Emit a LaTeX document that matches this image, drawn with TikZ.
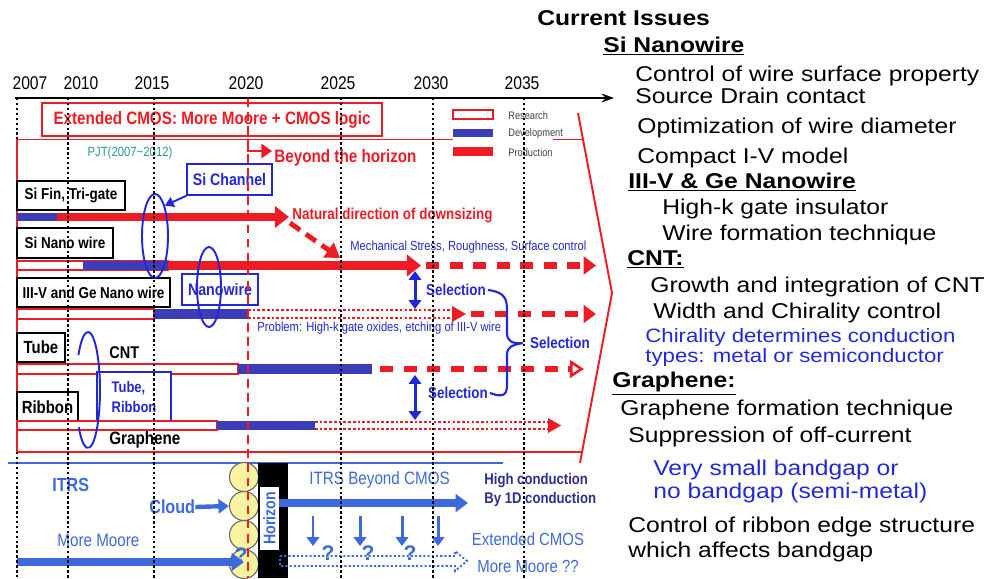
\documentclass[tikz,border=0pt]{standalone}
\usepackage{fontspec}
\setmainfont{Liberation Sans}
\newfontfamily\etroit[FakeStretch=0.85]{Liberation Sans}
\newfontfamily\ample[FakeStretch=1.15]{Liberation Sans}
\usetikzlibrary{arrows.meta,shapes.geometric}

\definecolor{rouge}{RGB}{237,28,36}
\definecolor{bleubarre}{RGB}{60,60,185}
\definecolor{bleutxt}{RGB}{35,40,215}
\definecolor{bleuitrs}{RGB}{60,105,220}
\definecolor{marine}{RGB}{45,45,150}
\definecolor{sarcelle}{RGB}{40,150,150}
\definecolor{nuage}{RGB}{250,243,160}

\newcommand{\taille}[2]{\fontsize{#1pt}{#2pt}\selectfont}

\tikzset{
  annee/.style={inner sep=0pt, font=\etroit\taille{10.5}{12}},
  boite/.style={draw, line width=1.1pt, fill=white, inner sep=1pt,
    font=\etroit\bfseries\taille{9}{10}},
  boitebleue/.style={draw=bleutxt, line width=0.9pt, fill=white, inner sep=1pt,
    text=bleutxt, font=\etroit\bfseries\taille{9.5}{11}},
  anneau/.style={ellipse, draw=bleutxt, line width=1.1pt, inner sep=0pt},
  legende/.style={anchor=west, inner sep=0pt, text=black!75, font=\etroit\taille{6.2}{7}},
  texterouge/.style={anchor=west, inner sep=0pt, text=rouge, font=\etroit\bfseries\taille{9}{10}},
  petitbleu/.style={anchor=west, inner sep=0pt, text=bleutxt, font=\etroit\taille{7.5}{9}},
  noirgras/.style={anchor=west, inner sep=0pt, font=\etroit\bfseries\taille{10.2}{12}},
  selec/.style={anchor=west, inner sep=1pt, text=bleutxt, font=\etroit\bfseries\taille{9}{10}},
  selfleche/.style={bleutxt, line width=1.7pt,
    {Triangle[length=5pt,width=7pt]}-{Triangle[length=5pt,width=7pt]}},
  recherche/.style={draw=rouge, line width=0.6pt, fill=white},
  tiret/.style={rouge, line width=3.5pt, dash pattern=on 7.4pt off 6pt,
    -{Triangle[length=7pt,width=10pt]}},
  pointille/.style={rouge, line width=1.1pt, dash pattern=on 1.5pt off 1.2pt},
  itrsgras/.style={anchor=west, inner sep=0pt, text=bleuitrs, font=\etroit\bfseries\taille{10.8}{12}},
  itrstexte/.style={anchor=west, inner sep=0pt, text=bleuitrs, font=\etroit\taille{10.2}{12}},
  grossefleche/.style={bleuitrs, line width=4pt, -{Triangle[length=7pt,width=10pt]}},
  grille/.style={black, line width=0.9pt, dash pattern=on 1.4pt off 1.4pt},
  issue/.style={anchor=base west, inner sep=0pt, font=\ample\taille{12.2}{14}},
  rubrique/.style={issue, font=\ample\bfseries\taille{12.2}{14}},
  remarque/.style={issue, text=bleutxt, font=\ample\taille{11}{13}}
}

\begin{document}
\begin{tikzpicture}[x=0.02cm, y=-0.02cm]
  \useasboundingbox (0,0) rectangle (986,578);
  % Axe du temps
  \draw[line width=1.1pt, -{Stealth[length=7pt,width=5pt]}] (15,98) -- (614,98);
  \foreach \an/\x in {2007/30,2010/81,2015/152,2020/246,2025/338,2030/431,2035/522}
    \node[annee] (a\an) at (\x,83) {\an};
  % Cadre rouge et chevron
  \draw[rouge, line width=1.1pt] (553,139.5) -- (583,139.5);
  \draw[rouge, line width=1.1pt] (453,139.5) -- (17,139.5) -- (17,452) -- (582,452);
  \draw[rouge, line width=1.1pt] (578,113) -- (612,293) -- (580,463);
  \node[draw=rouge, line width=1.1pt, fill=white, text=rouge, inner sep=0pt,
    font=\etroit\bfseries\taille{10.2}{12}, minimum width=6.8cm, minimum height=0.66cm]
    (ecmos) at (212,119.5) {Extended CMOS: More Moore + CMOS logic};
  % Legende
  \draw[rouge, line width=0.6pt] (453,110) rectangle (493,119);
  \fill[bleubarre] (453,129) rectangle (493,137);
  \fill[rouge] (453,147) rectangle (493,156);
  \node[legende] (lres) at (508,116) {Research};
  \node[legende] (ldev) at (508,134) {Development};
  \node[legende] (lprod) at (508,153) {Production};
  \node[inner sep=0pt, text=sarcelle, font=\etroit\taille{7.6}{9}] (pjt) at (130,153) {PJT(2007\textasciitilde 2012)};
  % Au-dela de l'horizon
  \node[texterouge, font=\etroit\bfseries\taille{10.2}{12}] (beyond) at (274,158) {Beyond the horizon};
  \draw[rouge, line width=1.7pt, -{Triangle[length=6pt,width=8pt]}] (248,139.5) |- (272,151);
  % Si Fin, Tri-gate
  \node[boite, minimum width=2.16cm, minimum height=0.58cm] (sifin) at (71,195.5) {Si Fin, Tri-gate};
  \fill[bleubarre] (17,213) rectangle (57,221);
  \draw[rouge, line width=4.5pt, -{Triangle[length=8pt,width=12pt]}] (57,217) -- (289,217);
  \node[texterouge] (natural) at (292,215) {Natural direction of downsizing};
  \draw[rouge, line width=2.8pt, dash pattern=on 7pt off 4pt, -{Triangle[length=8pt,width=10pt]}] (290,223) -- (340,258);
  % Si Nano wire
  \node[boite, minimum width=1.92cm, minimum height=0.6cm] (sinw) at (65,243) {Si Nano wire};
  \draw[recherche] (17,261) rectangle (168,270);
  \fill[bleubarre] (83,261) rectangle (168,270);
  \draw[rouge, line width=5.1pt, -{Triangle[length=8pt,width=12pt]}] (168,265.5) -- (421,265.5);
  \draw[tiret] (426,265.5) -- (596,265.5);
  \node[petitbleu] (mech) at (350,247) {Mechanical Stress, Roughness, Surface control};
  % III-V et Ge
  \node[boite, minimum width=3.06cm, minimum height=0.58cm] (iiiv) at (93.5,292.5) {III-V and Ge Nano wire};
  \node[boitebleue, minimum width=1.52cm, minimum height=0.62cm] (nanow) at (220,289.5) {Nanowire};
  \draw[recherche] (17,309) rectangle (154,319);
  \fill[bleubarre] (154,309) rectangle (248,319);
  \draw[pointille] (248,310) -- (453,310);
  \draw[pointille] (248,318) -- (453,318);
  \fill[rouge] (452,306) -- (466,314) -- (452,322) -- cycle;
  \draw[tiret] (471,314) -- (596,314);
  \node[petitbleu] (probl) at (257,328) {Problem: High-k gate oxides, etching of III-V wire};
  \node[selec] (sel1) at (424,290) {Selection};
  \draw[selfleche] (415,271) -- (415,309);
  % CNT
  \node[boite, minimum width=0.96cm, minimum height=0.58cm, font=\etroit\bfseries\taille{10}{11}] (tube) at (41,347.5) {Tube};
  \node[noirgras, font=\etroit\bfseries\taille{9.7}{11}] (cnt) at (109,353) {CNT};
  \draw[recherche] (17,364) rectangle (238,374);
  \fill[bleubarre] (238,364) rectangle (372,374);
  \draw[tiret, -{Triangle[open, length=8pt, width=10pt, line width=1.5pt]}] (380,369) -- (584,369);
  % Graphene
  \node[boite, minimum width=1.22cm, minimum height=0.6cm, font=\etroit\bfseries\taille{10}{11}] (ribbon) at (47.5,407) {Ribbon};
  \node[boitebleue, minimum width=1.48cm, minimum height=1.0cm, align=left,
    font=\etroit\bfseries\taille{8.7}{11}] (tuberib) at (134,397) {Tube,\\Ribbon};
  \node[noirgras] (graph) at (109,440) {Graphene};
  \draw[recherche] (17,421) rectangle (217,430);
  \fill[bleubarre] (217,421) rectangle (315,430);
  \draw[pointille] (315,422) -- (548,422);
  \draw[pointille] (315,429) -- (548,429);
  \fill[rouge] (548,418) -- (561,425.5) -- (548,433) -- cycle;
  \node[selec] (sel3) at (426,393) {Selection};
  \draw[selfleche] (415,375) -- (415,420);
  % Accolade de selection
  \node[selec] (sel2) at (528,343) {Selection};
  \draw[bleutxt, line width=1.2pt] (sel1.east) .. controls (504,292) and (507,298) .. (507,310)
    -- (507,333) .. controls (507,341) and (512,344) .. ([xshift=-3pt]sel2.west);
  \draw[bleutxt, line width=1.2pt] ([xshift=-3pt]sel2.west) .. controls (512,345) and (507,347) .. (507,355)
    -- (507,385) .. controls (507,395) and (503,398) .. (sel3.east);
  % Canal Si et anneaux
  \node[boitebleue, minimum width=1.7cm, minimum height=0.62cm] (sichan) at (229.5,179.5) {Si Channel};
  \node[anneau, minimum width=0.52cm, minimum height=1.68cm] (ell1) at (155,236) {};
  \node[anneau, minimum width=0.48cm, minimum height=1.6cm] (ell2) at (209,287) {};
  \draw[bleutxt, line width=1.1pt, -{Triangle[length=5pt,width=6pt]}] (sichan.south west) -- (ell1.north east);
  \draw[bleutxt, line width=1.1pt] (88,390) ++(217:12 and 58) arc[start angle=217, end angle=500, x radius=12, y radius=58];
  % Partie ITRS
  \draw[bleuitrs, line width=1.4pt] (8,463) -- (503,463);
  \node[itrsgras] (itrs) at (52,485) {ITRS};
  \node[itrstexte] (moremoore) at (57,540) {More Moore};
  \foreach \i/\y in {1/477,2/506,3/535,4/564}
    \node[circle, draw=black!60, fill=nuage, line width=0.6pt, minimum size=0.58cm, inner sep=0pt] (c\i) at (244,\y) {};
  \fill[black] (258,463) rectangle (288,578);
  \node[fill=white, rotate=90, inner sep=0pt, minimum width=1.26cm, minimum height=0.38cm,
    text=bleuitrs, font=\etroit\bfseries\taille{9.5}{10}] (horiz) at (269.5,518.5) {Horizon};
  \node[itrsgras] (cloudtxt) at (149,507) {Cloud};
  \draw[bleuitrs, line width=2.5pt, -{Triangle[length=6pt,width=8pt]}] (cloudtxt.east) -- (c2.west);
  \node[text=bleuitrs, inner sep=0pt, font=\bfseries\taille{12}{12}] (qc) at (241,555) {?};
  \coordinate (mm) at (17,562);
  \draw[grossefleche] (mm) -- (c4.center |- mm);
  \coordinate (ib) at (279,503);
  \draw[grossefleche] (ib) -- (468,503);
  \node[itrstexte] (ibc) at (309,480) {ITRS Beyond CMOS};
  \node[anchor=west, inner sep=0pt, align=left, text=marine, font=\etroit\bfseries\taille{8.8}{11.3}] (highc) at (484,490) {High conduction\\By 1D conduction};
  \foreach \x in {313,360,402,438}
    \draw[bleuitrs, line width=1.7pt, -{Triangle[length=5pt,width=7pt]}] (\x,516) -- (\x,546);
  \draw[bleuitrs, line width=1.1pt, dash pattern=on 1.2pt off 1.2pt]
    (280,556) -- (455,556) -- (455,551) -- (467,561) -- (455,571) -- (455,566) -- (280,566) -- cycle;
  \foreach \x in {328,368,410}
    \node[text=bleuitrs, inner sep=0pt, font=\bfseries\taille{12}{12}] (q\x) at (\x,553) {?};
  \node[inner sep=0pt, align=center, text=bleuitrs, font=\etroit\taille{10}{15.3}] (extm) at (528,553) {Extended CMOS\\More Moore ??};
  % Grille des annees
  \foreach \x in {68,154,341,433,524}
    \draw[grille] (\x,98) -- (\x,578);
  \draw[grille] (17,98) -- (17,139);
  \draw[grille] (17,452) -- (17,578);
  \draw[rouge, line width=1.2pt, dash pattern=on 5pt off 3pt] (248,98) -- (248,578);
  % Questions actuelles
  \node[rubrique] (ci) at (537,25) {Current Issues};
  \node[rubrique] (tsi) at (603,52) {\underline{Si Nanowire}};
  \node[issue] (i1) at (635,81) {Control of wire surface property};
  \node[issue] (i2) at (635,103) {Source Drain contact};
  \node[issue] (i3) at (637,133) {Optimization of wire diameter};
  \node[issue] (i4) at (637,163) {Compact I-V model};
  \node[rubrique] (tiii) at (628,188) {\underline{III-V \& Ge Nanowire}};
  \node[issue] (i5) at (662,214) {High-k gate insulator};
  \node[issue] (i6) at (662,240) {Wire formation technique};
  \node[rubrique] (tcnt) at (627,265) {\underline{CNT:}};
  \node[issue] (i7) at (650,292) {Growth and integration of CNT};
  \node[issue] (i8) at (653,318) {Width and Chirality control};
  \node[remarque] (r1) at (645,342) {Chirality determines conduction};
  \node[remarque] (r2) at (645,362) {types: metal or semiconductor};
  \node[rubrique] (tgra) at (612,387) {\underline{Graphene:}};
  \node[issue] (i9) at (620,415) {Graphene formation technique};
  \node[issue] (i10) at (628,442) {Suppression of off-current};
  \node[remarque, font=\ample\taille{12.2}{14}] (r3) at (653,475) {Very small bandgap or};
  \node[remarque, font=\ample\taille{12.2}{14}] (r4) at (653,498) {no bandgap (semi-metal)};
  \node[issue] (i11) at (628,532) {Control of ribbon edge structure};
  \node[issue] (i12) at (628,557) {which affects bandgap};
\end{tikzpicture}
\end{document}
